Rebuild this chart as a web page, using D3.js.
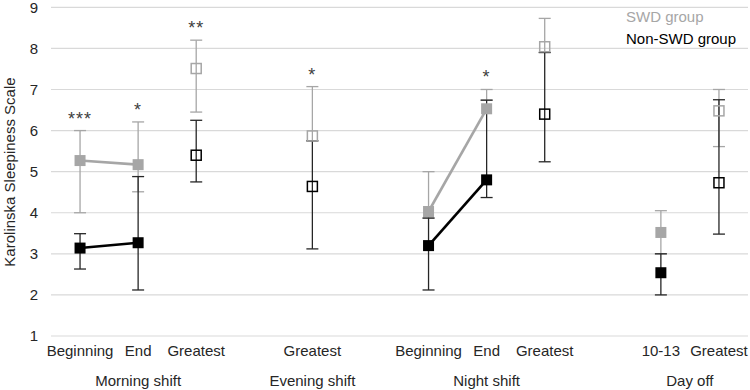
<!DOCTYPE html>
<html>
<head>
<meta charset="utf-8">
<script src="https://cdn.jsdelivr.net/npm/d3@7"></script>
<style>
  body { margin: 0; background: #fff; }
  svg text { font-family: "Liberation Sans", Arial, sans-serif; }
</style>
</head>
<body>
<div id="chart"></div>
<script>
// categories (blank slots separate the groups)
var categories = ["Beginning", "End", "Greatest", "", "Greatest", "", "Beginning", "End", "Greatest", "", "10-13", "Greatest"];
var markerType = ["filled", "filled", "hollow", null, "hollow", null, "filled", "filled", "hollow", null, "filled", "hollow"];

var groupLabels = ["Morning shift", "Evening shift", "Night shift", "Day off"];
var groupSlots = [[0, 1, 2], [4], [6, 7, 8], [10, 11]];

// SWD group
var swdMean = [5.27, 5.17, 7.51, null, 5.87, null, 4.03, 6.53, 8.04, null, 3.52, 6.48];
var swdLow  = [4.00, 4.51, 6.45, null, 5.75, null, 3.87, 6.74, 7.90, null, 3.00, 5.61];
var swdHigh = [6.00, 6.21, 8.20, null, 7.07, null, 5.00, 7.00, 8.73, null, 4.05, 7.00];

// Non-SWD group
var nonMean = [3.14, 3.27, 5.40, null, 4.64, null, 3.20, 4.80, 6.40, null, 2.54, 4.73];
var nonLow  = [2.63, 2.12, 4.75, null, 3.12, null, 2.12, 4.37, 5.24, null, 2.00, 3.48];
var nonHigh = [3.49, 4.88, 6.25, null, 5.75, null, 3.87, 6.74, 7.90, null, 3.00, 6.75];

// significance marks
var stars = ["***", "*", "**", "", "*", "", "", "*", "", "", "", ""];

// connected pairs (beginning -> end)
var links = [[0, 1], [6, 7]];

var yTicks = [1, 2, 3, 4, 5, 6, 7, 8, 9];

var width = 750, height = 390;

var svg = d3.select("#chart").append("svg")
    .attr("width", width)
    .attr("height", height);

var x = d3.scaleBand()
    .domain(d3.range(categories.length))
    .range([51, 748]);

var y = d3.scaleLinear()
    .domain([1, 9])
    .range([336, 7.3]);

function cx(i) { return x(i) + x.bandwidth() / 2; }

// gridlines
svg.append("g")
    .selectAll("line")
    .data(yTicks)
    .enter().append("line")
    .attr("x1", 51)
    .attr("x2", 748)
    .attr("y1", d => y(d))
    .attr("y2", d => y(d))
    .attr("stroke", "#d9d9d9")
    .attr("stroke-width", 1.2);

// y axis
var yAxis = svg.append("g")
    .attr("transform", "translate(38,0)")
    .call(d3.axisLeft(y).tickValues(yTicks).tickSize(0).tickPadding(0).tickFormat(d3.format("d")));
yAxis.select(".domain").remove();
yAxis.selectAll("text")
    .style("font-size", "15px")
    .style("font-family", "'Liberation Sans', Arial, sans-serif")
    .attr("fill", "#262626");

svg.append("text")
    .attr("transform", "translate(15,172) rotate(-90)")
    .attr("text-anchor", "middle")
    .attr("fill", "#262626")
    .style("font-size", "15px")
    .text("Karolinska Sleepiness Scale");

// x axis
var xAxis = svg.append("g")
    .attr("transform", "translate(0,345)")
    .call(d3.axisBottom(x).tickSize(0).tickPadding(0).tickFormat(i => categories[i]));
xAxis.select(".domain").remove();
xAxis.selectAll("text")
    .attr("dy", "0.75em")
    .style("font-size", "15px")
    .style("font-family", "'Liberation Sans', Arial, sans-serif")
    .attr("fill", "#262626");

svg.append("g")
    .selectAll("text")
    .data(groupLabels)
    .enter().append("text")
    .attr("x", (d, i) => d3.mean(groupSlots[i], cx))
    .attr("y", 386)
    .attr("text-anchor", "middle")
    .attr("fill", "#262626")
    .style("font-size", "15px")
    .text(d => d);

var series = [
    {mean: swdMean, low: swdLow, high: swdHigh, color: "#a6a6a6", barColor: "#a6a6a6"},
    {mean: nonMean, low: nonLow, high: nonHigh, color: "#000000", barColor: "#262626"}
];

// error bars first (both series), markers on top
function drawErrors(s) {
    var idx = d3.range(s.mean.length).filter(i => s.mean[i] != null);
    var g = svg.append("g");

    g.selectAll(null)
        .data(idx)
        .enter().append("line")
        .attr("x1", cx).attr("x2", cx)
        .attr("y1", i => y(s.low[i]))
        .attr("y2", i => y(s.high[i]))
        .attr("stroke", s.barColor)
        .attr("stroke-width", 1.3);

    [s.low, s.high].forEach(function(arr) {
        g.selectAll(null)
            .data(idx)
            .enter().append("line")
            .attr("x1", i => cx(i) - 6).attr("x2", i => cx(i) + 6)
            .attr("y1", i => y(arr[i]))
            .attr("y2", i => y(arr[i]))
            .attr("stroke", s.barColor)
            .attr("stroke-width", 1.3);
    });
}

function drawMarkers(s) {
    var idx = d3.range(s.mean.length).filter(i => s.mean[i] != null);
    var g = svg.append("g");

    g.selectAll(null)
        .data(links)
        .enter().append("line")
        .attr("x1", d => cx(d[0])).attr("y1", d => y(s.mean[d[0]]))
        .attr("x2", d => cx(d[1])).attr("y2", d => y(s.mean[d[1]]))
        .attr("stroke", s.color)
        .attr("stroke-width", 2.6);

    g.selectAll(null)
        .data(idx.filter(i => markerType[i] === "filled"))
        .enter().append("rect")
        .attr("x", i => cx(i) - 5.5)
        .attr("y", i => y(s.mean[i]) - 5.5)
        .attr("width", 11)
        .attr("height", 11)
        .attr("fill", s.color);

    g.selectAll(null)
        .data(idx.filter(i => markerType[i] === "hollow"))
        .enter().append("rect")
        .attr("x", i => cx(i) - 5)
        .attr("y", i => y(s.mean[i]) - 5)
        .attr("width", 10)
        .attr("height", 10)
        .attr("fill", "none")
        .attr("stroke", s.color)
        .attr("stroke-width", 1.5);
}

series.forEach(drawErrors);
series.forEach(drawMarkers);

// asterisks
svg.append("g")
    .selectAll("text")
    .data(d3.range(stars.length).filter(i => stars[i] !== ""))
    .enter().append("text")
    .attr("x", cx)
    .attr("y", i => y(Math.max(swdHigh[i], nonHigh[i])) - 6)
    .attr("text-anchor", "middle")
    .attr("fill", "#404040")
    .attr("letter-spacing", "1px")
    .style("font-size", "18px")
    .text(i => stars[i]);

// legend
svg.append("text")
    .attr("x", 626).attr("y", 22)
    .attr("fill", "#a6a6a6")
    .style("font-size", "15px")
    .text("SWD group");
svg.append("text")
    .attr("x", 626).attr("y", 44)
    .attr("fill", "#000000")
    .style("font-size", "15px")
    .text("Non-SWD group");
</script>
</body>
</html>
